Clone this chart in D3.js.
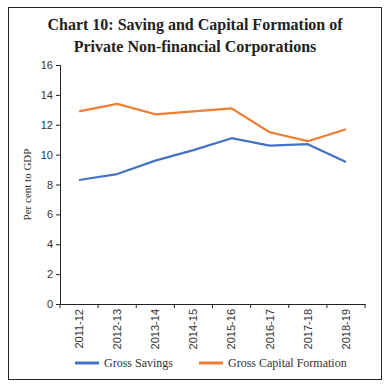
<!DOCTYPE html>
<html>
<head>
<meta charset="utf-8">
<script src="https://cdn.jsdelivr.net/npm/d3@7"></script>
<style>
  body { margin: 0; background: #fff; }
  svg { display: block; }
</style>
</head>
<body>
<svg id="chart" width="389" height="388"></svg>
<script>
const years = ['2011-12', '2012-13', '2013-14', '2014-15', '2015-16', '2016-17', '2017-18', '2018-19']
const grossSavings = [8.3, 8.7, 9.6, 10.3, 11.1, 10.6, 10.7, 9.5]
const grossCapital = [12.9, 13.4, 12.7, 12.9, 13.1, 11.5, 10.9, 11.7]
const yTicks = [0, 2, 4, 6, 8, 10, 12, 14, 16]
const seriesNames = ['Gross Savings', 'Gross Capital Formation']
const colours = ['#4472c4', '#ed7d31']

const svg = d3.select('#chart')

// frame
svg.append('rect')
  .attr('x', 8.5).attr('y', 7.5)
  .attr('width', 373).attr('height', 372)
  .attr('fill', 'none').attr('stroke', '#222').attr('stroke-width', 1)

// title
const title = svg.append('text')
  .attr('text-anchor', 'middle')
  .attr('font-family', 'Liberation Serif, serif')
  .attr('font-weight', 'bold')
  .attr('font-size', 16)
  .attr('fill', '#222')
title.append('tspan').attr('x', 195).attr('y', 30).text('Chart 10: Saving and Capital Formation of')
title.append('tspan').attr('x', 195).attr('y', 52).text('Private Non-financial Corporations')

const margin = { top: 65, left: 60, right: 365, bottom: 304 }

const xScale = d3.scaleBand()
  .domain(years)
  .range([margin.left, margin.right])

const yScale = d3.scaleLinear()
  .domain([0, 16])
  .range([margin.bottom, margin.top])

// y axis
const yAxis = svg.append('g')
  .attr('transform', `translate(${margin.left}, 0)`)
  .call(d3.axisLeft(yScale).tickValues(yTicks).tickSize(4).tickPadding(3))
yAxis.selectAll('text')
  .attr('font-family', 'Liberation Sans, sans-serif')
  .attr('font-size', 11)
  .attr('fill', '#333')
yAxis.select('.domain').attr('stroke', '#222')
yAxis.selectAll('line').attr('stroke', '#222')

// x axis with ticks at band edges
const xAxis = svg.append('g')
  .attr('transform', `translate(0, ${margin.bottom})`)
  .call(d3.axisBottom(xScale).tickSize(0).tickSizeOuter(0).tickPadding(5))
xAxis.select('.domain').attr('stroke', '#222')
xAxis.selectAll('text')
  .attr('font-family', 'Liberation Sans, sans-serif')
  .attr('font-size', 11)
  .attr('fill', '#333')
  .attr('transform', 'rotate(-90)')
  .attr('text-anchor', 'end')
  .attr('dy', '0.35em')
  .attr('x', -5)
  .attr('y', 0)

const edges = years.map(d => xScale(d)).concat([xScale.range()[1]])
svg.append('g')
  .selectAll('line')
  .data(edges)
  .enter()
  .append('line')
  .attr('x1', d => d).attr('x2', d => d)
  .attr('y1', margin.bottom).attr('y2', margin.bottom + 4)
  .attr('stroke', '#222')

// y label
svg.append('text')
  .attr('transform', `translate(31, ${(margin.top + margin.bottom) / 2}) rotate(-90)`)
  .attr('text-anchor', 'middle')
  .attr('font-family', 'Liberation Serif, serif')
  .attr('font-size', 11)
  .attr('fill', '#333')
  .text('Per cent to GDP')

// lines
const line = d3.line()
  .x((d, i) => xScale(years[i]) + xScale.bandwidth() / 2)
  .y(d => yScale(d))

const series = [grossSavings, grossCapital]
svg.append('g')
  .selectAll('path')
  .data(series)
  .enter()
  .append('path')
  .attr('d', d => line(d))
  .attr('fill', 'none')
  .attr('stroke', (d, i) => colours[i])
  .attr('stroke-width', 2.2)
  .attr('stroke-linejoin', 'round')

// legend
const legendX = [75, 199]
const legend = svg.append('g')
  .selectAll('g')
  .data(seriesNames)
  .enter()
  .append('g')
  .attr('transform', (d, i) => `translate(${legendX[i]}, 363)`)
legend.append('line')
  .attr('x1', 0).attr('x2', 24)
  .attr('stroke', (d, i) => colours[i])
  .attr('stroke-width', 3)
legend.append('text')
  .attr('x', 29).attr('dy', '0.35em')
  .attr('font-family', 'Liberation Serif, serif')
  .attr('font-size', 12)
  .attr('fill', '#333')
  .text(d => d)
</script>
</body>
</html>
